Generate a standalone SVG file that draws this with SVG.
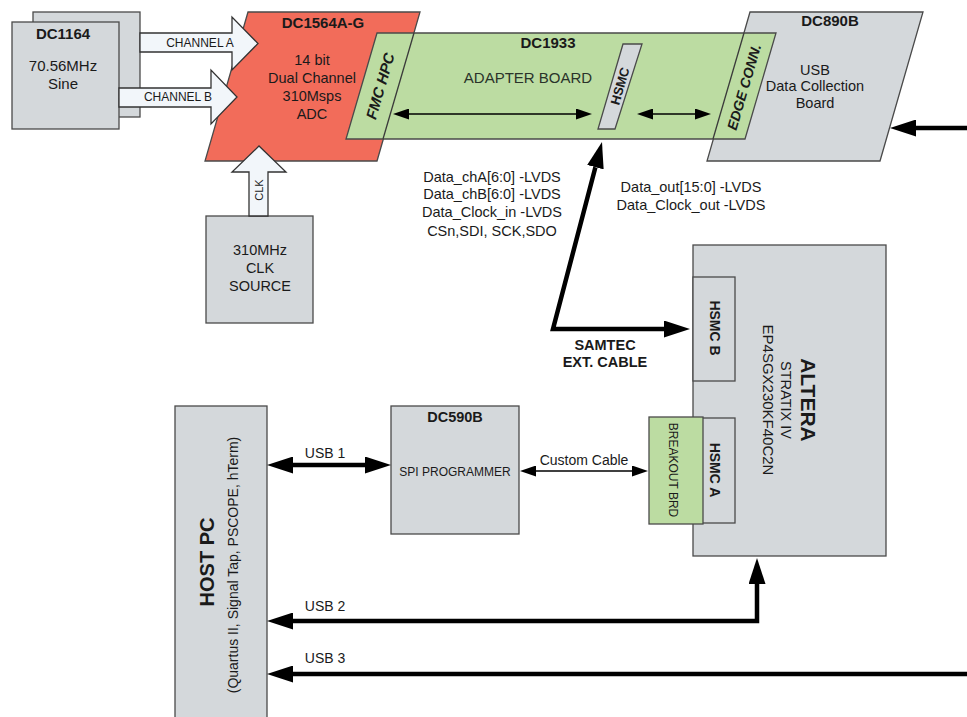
<svg xmlns="http://www.w3.org/2000/svg" width="967" height="717" viewBox="0 0 967 717">
<style>
text{font-family:"Liberation Sans",Arial,sans-serif;fill:#1a1a1a;text-anchor:middle;dominant-baseline:central}
.b{font-weight:bold}
.gray{fill:#d4d8db;stroke:#4a4a4a;stroke-width:1.3}
.red{fill:#f26c5a;stroke:#4a4a4a;stroke-width:1.3}
.green{fill:#bcdca2;stroke:#4a4a4a;stroke-width:1.3}
.hollow{fill:#f2f6fa;stroke:#333;stroke-width:1.3}
.div{fill:none;stroke:#3a3a3a;stroke-width:1.3}
.thick{fill:none;stroke:#000;stroke-width:4.5}
.thin{fill:none;stroke:#000;stroke-width:1.5}
</style>
<defs>
<marker id="hk" markerUnits="userSpaceOnUse" markerWidth="26" markerHeight="17" refX="0" refY="8.5" orient="auto-start-reverse"><path d="M0,0 L26,8.5 L0,17 z" fill="#000"/></marker>
<marker id="hn" markerUnits="userSpaceOnUse" markerWidth="16" markerHeight="11" refX="0" refY="5.5" orient="auto-start-reverse"><path d="M0,0 L16,5.5 L0,11 z" fill="#000"/></marker>
</defs>

<g id="dc1164">
<rect class="gray" x="33" y="12" width="107" height="105"/>
<rect class="gray" x="12" y="22" width="107" height="107"/>
<text class="b" x="63" y="33" font-size="15">DC1164</text>
<text x="63" y="65" font-size="15">70.56MHz</text>
<text x="63" y="83" font-size="15">Sine</text>
</g>

<g id="dc890b">
<polygon class="gray" points="750,12 923,12 880,161 707,161"/>
<text class="b" x="830" y="20" font-size="15">DC890B</text>
<text x="815" y="70" font-size="14.5">USB</text>
<text x="815" y="86" font-size="14.5">Data Collection</text>
<text x="815" y="103" font-size="14.5">Board</text>
</g>

<g id="dc1564">
<polygon class="red" points="248,12 420,12 377,161 205,161"/>
<text class="b" x="323" y="22" font-size="15">DC1564A-G</text>
<text x="312" y="60" font-size="14.5">14 bit</text>
<text x="312" y="78" font-size="14.5">Dual Channel</text>
<text x="312" y="96" font-size="14.5">310Msps</text>
<text x="312" y="114" font-size="14.5">ADC</text>
</g>

<g id="dc1933">
<polygon class="green" points="377,33 776,33 745,139 346,139"/>
<line class="div" x1="414" y1="33" x2="383" y2="139"/>
<line class="div" x1="744" y1="33" x2="713" y2="139"/>
<text class="b" x="548" y="42" font-size="15">DC1933</text>
<text x="528" y="77" font-size="15" style="fill:#2a332a">ADAPTER BOARD</text>
<text class="b" x="380" y="86" font-size="15" font-style="italic" transform="rotate(-73.7 380 86)">FMC HPC</text>
<text class="b" x="744" y="87" font-size="14" font-style="italic" transform="rotate(-73.7 744 87)">EDGE CONN.</text>
</g>

<g id="hsmc-conn">
<polygon class="gray" points="623,44 642,44 615,129 598,129"/>
<text class="b" x="620" y="86" font-size="13" transform="rotate(-73.7 620 86)">HSMC</text>
</g>

<g id="clk-source">
<rect class="gray" x="206" y="216" width="107" height="107"/>
<text x="260" y="250" font-size="14.5">310MHz</text>
<text x="260" y="268" font-size="14.5">CLK</text>
<text x="260" y="286" font-size="14.5">SOURCE</text>
</g>

<g id="altera">
<rect class="gray" x="693" y="245" width="193" height="311"/>
<rect class="gray" x="693" y="277" width="42" height="104"/>
<rect class="gray" x="693" y="418" width="42" height="105"/>
<text class="b" x="715" y="328" font-size="14" transform="rotate(90 715 328)">HSMC B</text>
<text class="b" x="715" y="470" font-size="14" transform="rotate(90 715 470)">HSMC A</text>
<text class="b" x="808" y="400" font-size="21" transform="rotate(90 808 400)">ALTERA</text>
<text x="786" y="400" font-size="14.5" transform="rotate(90 786 400)">STRATIX IV</text>
<text x="768" y="400" font-size="15" transform="rotate(90 768 400)">EP4SGX230KF40C2N</text>
</g>

<g id="breakout">
<rect class="green" x="649" y="417" width="54" height="107"/>
<text x="673" y="470" font-size="12" transform="rotate(90 673 470)">BREAKOUT BRD</text>
</g>

<g id="dc590b">
<rect class="gray" x="391" y="406" width="128" height="128"/>
<text class="b" x="455" y="417" font-size="14.5">DC590B</text>
<text x="455" y="472" font-size="12">SPI PROGRAMMER</text>
</g>

<g id="host-pc">
<rect class="gray" x="175" y="406" width="92" height="340"/>
<text class="b" x="207" y="562" font-size="20" transform="rotate(-90 207 562)">HOST PC</text>
<text x="233" y="565" font-size="14" transform="rotate(-90 233 565)">(Quartus II, Signal Tap, PSCOPE, hTerm)</text>
</g>

<g id="connectors">
<polygon class="hollow" points="140,33 232,33 232,17 258,43.5 232,70 232,52 140,52"/>
<text x="200" y="43" font-size="12">CHANNEL A</text>
<polygon class="hollow" points="119,88 211,88 211,70 237,97 211,124 211,107 119,107"/>
<text x="178" y="97" font-size="12">CHANNEL B</text>
<polygon class="hollow" points="249,216 249,172 232,172 259,146 286,172 268,172 268,216"/>
<text x="258.5" y="190" font-size="11" transform="rotate(-90 258.5 190)">CLK</text>

<path class="thin" d="M409,114 L576,114" marker-start="url(#hn)" marker-end="url(#hn)"/>
<path class="thin" d="M653,114 L695,114" marker-start="url(#hn)" marker-end="url(#hn)"/>
<path class="thick" d="M967,128 L916,128" marker-end="url(#hk)"/>
<path class="thick" d="M595.4,167.2 L553,329 L664,329" stroke-linejoin="miter" marker-start="url(#hk)" marker-end="url(#hk)"/>
<text x="492" y="177" font-size="14.5">Data_chA[6:0] -LVDS</text>
<text x="492" y="194" font-size="14.5">Data_chB[6:0] -LVDS</text>
<text x="492" y="212" font-size="14.5">Data_Clock_in -LVDS</text>
<text x="492" y="231" font-size="14.5">CSn,SDI, SCK,SDO</text>
<text x="691" y="187" font-size="14.5">Data_out[15:0] -LVDS</text>
<text x="691" y="205" font-size="14.5">Data_Clock_out -LVDS</text>
<text class="b" x="605" y="345" font-size="14.5">SAMTEC</text>
<text class="b" x="605" y="362" font-size="14.5">EXT. CABLE</text>

<path class="thin" d="M536,471 L632,471" marker-start="url(#hn)" marker-end="url(#hn)"/>
<text x="584" y="460" font-size="14">Custom Cable</text>

<path class="thick" d="M293,465 L365,465" marker-start="url(#hk)" marker-end="url(#hk)"/>
<text x="325" y="453" font-size="14">USB 1</text>
<path class="thick" d="M293,621 L757,621 L757,584" marker-start="url(#hk)" marker-end="url(#hk)"/>
<text x="325" y="606" font-size="14">USB 2</text>
<path class="thick" d="M967,674 L293,674" marker-end="url(#hk)"/>
<text x="325" y="658" font-size="14">USB 3</text>
</g>
</svg>
